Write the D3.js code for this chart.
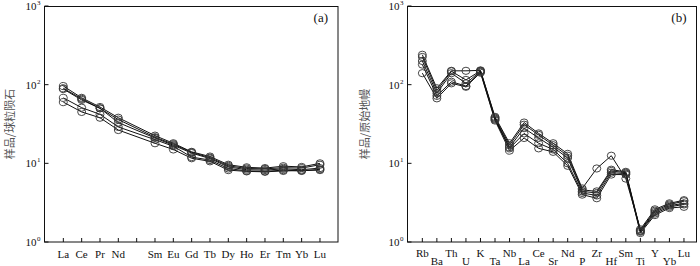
<!DOCTYPE html>
<html><head><meta charset="utf-8">
<script src="https://cdn.jsdelivr.net/npm/d3@7"></script>
<style>
body{margin:0;background:#fff;}
svg{display:block;}
text{font-family:"Liberation Serif","DejaVu Serif",serif;fill:#111;}
.cjk{font-family:"Noto Sans CJK SC",sans-serif;fill:#555;}
</style></head>
<body>
<svg id="c" width="700" height="266"></svg>
<script>
// ---- Data: panel (a) chondrite-normalised REE ----
const reeKeys = ["La","Ce","Pr","Nd","Pm","Sm","Eu","Gd","Tb","Dy","Ho","Er","Tm","Yb","Lu"];
const reeLabels = ["La","Ce","Pr","Nd","","Sm","Eu","Gd","Tb","Dy","Ho","Er","Tm","Yb","Lu"];
const reeElements = ["La","Ce","Pr","Nd","Sm","Eu","Gd","Tb","Dy","Ho","Er","Tm","Yb","Lu"];
const reeS1 = [96,68,52,38,22.5,18,14,12.2,9.6,8.9,8.7,9.2,9.0,10.0];
const reeS2 = [90,66,50,36,21.5,17.5,13.8,11.8,9.3,8.6,8.5,8.8,8.7,9.6];
const reeS3 = [88,64,50,33,21,17,13.5,11.5,9.0,8.3,8.2,8.5,8.3,8.7];
const reeS4 = [68,51,42,29,20,16.5,12.0,11.0,8.6,8.0,7.9,8.2,8.0,8.4];
const reeS5 = [60,45,38,26.5,18,15,11.6,10.6,8.2,7.9,7.8,8.0,8.1,8.2];

// ---- Data: panel (b) primitive-mantle-normalised trace elements ----
const traceElements = ["Rb","Ba","Th","U","K","Ta","Nb","La","Ce","Sr","Nd","P","Zr","Hf","Sm","Ti","Y","Yb","Lu"];
const trS1 = [240,90,150,150,152,39,18,33,24,18,13.2,4.8,8.6,12.5,6.4,1.45,2.6,3.1,3.4];
const trS2 = [225,84,148,115,150,38,17,31,23,17,12.5,4.6,4.4,8.3,7.8,1.40,2.5,3.0,3.3];
const trS3 = [200,78,140,104,148,37,16,28,21,16,11.7,4.4,4.2,8.0,7.6,1.38,2.4,2.9,3.1];
const trS4 = [180,72,109,96,145,36,15.5,24,18,15,10,4.2,3.9,7.6,7.4,1.35,2.3,2.8,3.0];
const trS5 = [140,67,104,94,142,35,14.5,21,15.5,14,9.3,4.0,3.6,7.2,7.2,1.30,2.2,2.7,2.8];

const yTicks = [1,10,100,1000];
const yExp = ["0","1","2","3"];

const svg = d3.select("#c");

function panel(opt){
  const g = svg.append("g");
  const x = d3.scalePoint().domain(opt.keys).range(opt.xr).padding(1);
  const y = d3.scaleLog().domain([1,1000]).range([242,6]);
  const [fx0,fx1] = opt.frame;
  // frame
  g.append("rect").attr("x",fx0).attr("y",6.5).attr("width",fx1-fx0).attr("height",235.5)
    .attr("fill","none").attr("stroke","#111").attr("stroke-width",1);
  // bottom ticks (inward)
  g.selectAll(".xt").data(opt.keys).enter().append("line")
    .attr("x1",d=>x(d)).attr("x2",d=>x(d)).attr("y1",242).attr("y2",238)
    .attr("stroke","#111").attr("stroke-width",1);
  // x labels
  g.selectAll(".xl").data(opt.keys).enter().append("text")
    .attr("x",d=>x(d)).attr("y",(d,i)=>opt.labelY(i))
    .attr("text-anchor","middle").attr("font-size",11)
    .text((d,i)=>opt.labels[i]);
  // y ticks + labels
  yTicks.forEach((t,i)=>{
    g.append("line").attr("x1",fx0).attr("x2",fx0+4).attr("y1",y(t)).attr("y2",y(t))
      .attr("stroke","#111").attr("stroke-width",1);
    const tx = g.append("text").attr("x",fx0-8).attr("y",y(t)+4).attr("text-anchor","end").attr("font-size",11);
    tx.text("10");
    g.append("text").attr("x",fx0-7.5).attr("y",y(t)-1).attr("font-size",7).text(yExp[i]);
  });
  // y title
  g.append("text").attr("class","cjk")
    .attr("transform",`translate(${opt.titleX},124) rotate(-90)`)
    .attr("text-anchor","middle").attr("font-size",11).text(opt.title);
  // panel tag
  g.append("text").attr("x",fx1-10).attr("y",22).attr("text-anchor","end").attr("font-size",13).text(opt.tag);
  // series
  const line = d3.line().x(d=>x(d.k)).y(d=>y(d.v));
  opt.series.forEach(s=>{
    const pts = opt.elements.map((k,i)=>({k:k,v:s[i]}));
    g.append("path").datum(pts).attr("d",line).attr("fill","none").attr("stroke","#111").attr("stroke-width",1);
  });
  opt.series.forEach(s=>{
    const pts = opt.elements.map((k,i)=>({k:k,v:s[i]}));
    g.selectAll(null).data(pts).enter().append("ellipse")
      .attr("cx",d=>x(d.k)).attr("cy",d=>y(d.v)).attr("rx",4).attr("ry",3.6)
      .attr("fill","none").attr("stroke","#333").attr("stroke-width",0.9);
  });
}

panel({
  keys: reeKeys, labels: reeLabels, elements: reeElements,
  xr:[45,338.3], frame:[44.5,338],
  labelY: i=>258,
  title:"样品/球粒陨石", titleX:14, tag:"(a)",
  series:[reeS1,reeS2,reeS3,reeS4,reeS5]
});
panel({
  keys: traceElements, labels: traceElements, elements: traceElements,
  xr:[407.8,698.5], frame:[407.5,696.5],
  labelY: i=> i%2===0 ? 257 : 265,
  title:"样品/原始地幔", titleX:369, tag:"(b)",
  series:[trS1,trS2,trS3,trS4,trS5]
});
</script>
</body></html>
